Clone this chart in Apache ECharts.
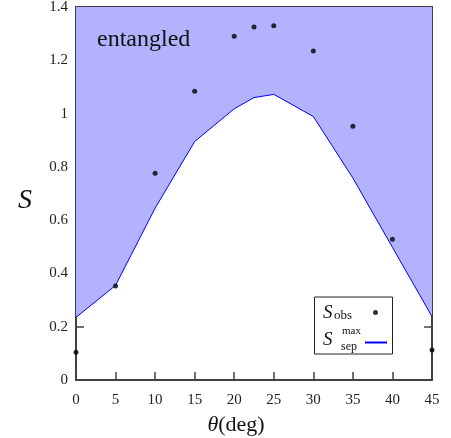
<!DOCTYPE html>
<html>
<head>
<meta charset="utf-8">
<script src="https://cdn.jsdelivr.net/npm/echarts@6/dist/echarts.min.js"></script>
<style>
  html, body { margin: 0; padding: 0; background: #fff; }
  #chart { width: 451px; height: 438px; }
</style>
</head>
<body>
<div id="chart"></div>
<script>
// angles in degrees
const angles = [0, 5, 10, 15, 20, 22.5, 25, 30, 35, 40, 45]
// observed S values (dots)
const sObs = [0.104, 0.353, 0.776, 1.084, 1.290, 1.325, 1.330, 1.235, 0.952, 0.528, 0.113]
// max separable bound (blue line)
const sSepMax = [0.235, 0.355, 0.645, 0.895, 1.018, 1.060, 1.072, 0.989, 0.758, 0.498, 0.238]
const xTicks = [0, 45, 5]
const yTicks = [0, 1.4, 0.2]

const serif = 'Liberation Serif'
const chart = echarts.init(document.getElementById('chart'))

const axisCommon = {
  type: 'value',
  axisLine: { show: true, onZero: false, lineStyle: { color: '#000', width: 1.5 } },
  axisTick: { show: true, inside: true, length: 8, lineStyle: { color: '#444', width: 1.5 } },
  splitLine: { show: false }
}

const option = {
  animation: false,
  grid: { left: 76, right: 19, top: 7, bottom: 58, outerBoundsMode: 'none' },
  xAxis: [
    {
      ...axisCommon,
      min: xTicks[0], max: xTicks[1], interval: xTicks[2],
      position: 'bottom',
      axisLabel: { margin: 13, fontFamily: serif, fontSize: 15, color: '#222' },
      name: '{t|θ}(deg)',
      nameLocation: 'middle',
      nameGap: 34,
      nameTextStyle: {
        fontFamily: serif, fontSize: 22, color: '#111',
        padding: [0, 36, 0, 0],
        rich: { t: { fontFamily: serif, fontSize: 22, fontStyle: 'italic', color: '#111' } }
      }
    },
    {
      ...axisCommon,
      min: xTicks[0], max: xTicks[1], interval: xTicks[2],
      position: 'top',
      axisLabel: { show: false }
    }
  ],
  yAxis: [
    {
      ...axisCommon,
      min: yTicks[0], max: yTicks[1], interval: yTicks[2],
      position: 'left',
      axisLabel: { margin: 8, fontFamily: serif, fontSize: 15, color: '#222' },
      name: '{s|S}',
      nameLocation: 'middle',
      nameRotate: 0,
      nameGap: 44,
      nameTextStyle: {
        rich: { s: { fontFamily: serif, fontSize: 28, fontStyle: 'italic', color: '#111', padding: [14, 0, 0, 0] } }
      }
    },
    {
      ...axisCommon,
      min: yTicks[0], max: yTicks[1], interval: yTicks[2],
      position: 'right',
      axisLabel: { show: false }
    }
  ],
  legend: [
    {
      data: [{ name: 'S_obs', icon: 'circle' }],
      left: 323, top: 303,
      padding: 0,
      align: 'right',
      itemWidth: 5, itemHeight: 5,
      formatter: () => '{s|S}{b|obs}',
      textStyle: {
        rich: {
          s: { fontFamily: serif, fontSize: 19, fontStyle: 'italic', color: '#111', width: 11, align: 'left', lineHeight: 22 },
          b: { fontFamily: serif, fontSize: 13, color: '#111', width: 34, align: 'left', lineHeight: 22, padding: [6, 0, 0, 0] }
        }
      }
    },
    {
      data: [{ name: 'S_sep', icon: 'rect' }],
      left: 323, top: 330,
      padding: 0,
      align: 'right',
      itemWidth: 22, itemHeight: 2,
      formatter: () => '{s|S}{b|sep}',
      textStyle: {
        rich: {
          s: { fontFamily: serif, fontSize: 19, fontStyle: 'italic', color: '#111', width: 18, align: 'left', lineHeight: 22, padding: [0, 0, 6, 0] },
          b: { fontFamily: serif, fontSize: 12, color: '#111', width: 19, align: 'left', lineHeight: 22, padding: [8, 0, 0, 0] }
        }
      }
    }
  ],
  graphic: [
    {
      type: 'rect',
      z: 3,
      shape: { x: 314.5, y: 297, width: 78, height: 57 },
      style: { fill: '#fff', stroke: '#222', lineWidth: 1 }
    },
    {
      type: 'text',
      z: 5,
      left: 342, top: 326,
      style: { text: 'max', font: '11px "Liberation Serif"', fill: '#111' }
    },
    {
      type: 'text',
      z: 5,
      left: 97, top: 28,
      style: { text: 'entangled', font: '24px "Liberation Serif"', fill: '#111' }
    }
  ],
  series: [
    {
      name: 'S_sep',
      type: 'line',
      data: angles.map((a, i) => [a, sSepMax[i]]),
      symbol: 'none',
      lineStyle: { color: '#0000ff', width: 1 },
      itemStyle: { color: '#0000ff' },
      areaStyle: { origin: 'end', color: '#b2b2ff', opacity: 1 },
      z: 2
    },
    {
      name: 'S_obs',
      type: 'scatter',
      data: angles.map((a, i) => [a, sObs[i]]),
      symbolSize: 5,
      itemStyle: { color: '#000' },
      z: 3
    }
  ]
}

chart.setOption(option)
</script>
</body>
</html>
